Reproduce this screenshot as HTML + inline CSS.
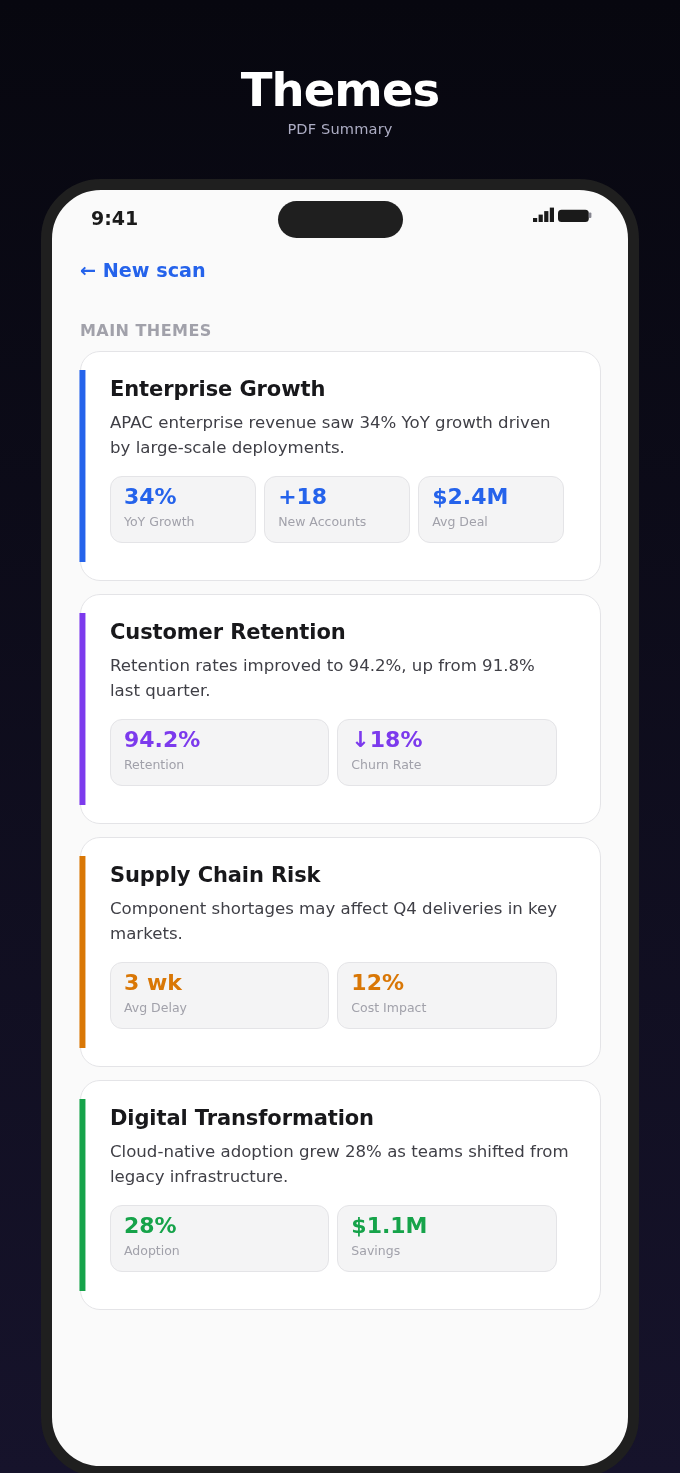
<!DOCTYPE html>
<html lang="en">
<head>
<meta charset="utf-8">
<title>Themes – PDF Summary</title>
<style>
*{box-sizing:border-box;margin:0;padding:0}
html,body{width:680px;height:1473px;overflow:hidden}
body{
  font-family:"DejaVu Sans","Liberation Sans",sans-serif;
  background:linear-gradient(180deg,#07070f 0%,#16132b 100%);
  position:relative;
  -webkit-font-smoothing:antialiased;
}
.hero{will-change:transform;position:absolute;left:0;top:0;width:680px;text-align:center;color:#fff}
.hero h1{position:absolute;left:0;width:680px;top:62px;font-size:46.5px;line-height:56px;font-weight:700;letter-spacing:-0.9px}
.hero p{position:absolute;left:0;width:680px;top:120px;font-size:14.6px;letter-spacing:.15px;line-height:18px;color:#adadc4}
.phone{
  position:absolute;left:41px;top:179px;width:598px;height:1298px;
  border:11px solid #1f1f1f;border-radius:60px;background:#fafafa;overflow:hidden;
}
.screen{will-change:transform;position:absolute;left:0;top:0;width:576px;height:1275px}
.time{position:absolute;left:39px;top:16px;font-size:19px;line-height:24px;font-weight:700;color:#1a1a1a}
.island{position:absolute;left:226px;top:11px;width:125px;height:37px;border-radius:19px;background:#1f1f1f}
.status{position:absolute;left:481.3px;top:16.5px;width:60px;height:16px}
.back{position:absolute;left:28px;top:68px;font-size:19.2px;line-height:26px;font-weight:700;color:#2563eb}
.section{position:absolute;left:28px;top:131px;font-size:16px;line-height:20px;font-weight:700;color:#a1a1aa;letter-spacing:.45px}
.card{
  position:absolute;left:28px;width:521px;height:230px;background:#fff;
  border:1px solid #e4e4e7;border-radius:20px;
}
.card .bar{position:absolute;left:-2px;top:18px;width:7px;height:192px;background:linear-gradient(90deg,rgba(var(--c),.55) 0,rgba(var(--c),.55) 1px,rgb(var(--c)) 1px,rgb(var(--c)) 6px,rgba(var(--c),.45) 6px,rgba(var(--c),.45) 7px)}
.card h2{position:absolute;left:29px;top:23px;letter-spacing:-0.1px;font-size:21px;line-height:28px;font-weight:700;color:#18181b;white-space:nowrap}
.card .desc{position:absolute;left:29px;top:58px;width:470px;white-space:nowrap;font-size:16.6px;line-height:25px;color:#3f3f46}
.stats{position:absolute;left:29px;top:124px;display:flex;gap:8px}
.stat{height:67px;background:#f4f4f5;border:1px solid #e4e4e7;border-radius:12px;padding:6px 13px 0 13px}
.stat b{display:block;font-size:22px;line-height:28px;font-weight:700;white-space:nowrap}
.stat span{display:block;font-size:12.5px;line-height:16px;color:#a1a1aa;margin-top:3px;white-space:nowrap}
.w3 .stat{width:146.13px}
.w2 .stat{width:219.35px}
.c1{top:161px}.c2{top:404px}.c3{top:647px}.c4{top:890px}
.blue{--c:37,99,235}.blue b{color:#2563eb}
.purple{--c:124,58,237}.purple b{color:#7c3aed}
.orange{--c:217,119,6}.orange b{color:#d97706}
.green{--c:22,163,74}.green b{color:#16a34a}
</style>
</head>
<body>
<div class="hero">
  <h1>Themes</h1>
  <p>PDF Summary</p>
</div>
<div class="phone">
 <div class="screen">
  <div class="time">9:41</div>
  <div class="island"></div>
  <svg class="status" viewBox="0 0 60 16">
    <rect x="0" y="11" width="4.2" height="4" fill="#1a1a1a"/>
    <rect x="5.6" y="7.6" width="4.2" height="7.4" fill="#1a1a1a"/>
    <rect x="11.2" y="4.1" width="4.2" height="10.9" fill="#1a1a1a"/>
    <rect x="16.8" y="0.6" width="4.2" height="14.4" fill="#1a1a1a"/>
    <rect x="25" y="2.7" width="30.8" height="12.3" rx="3.5" fill="#1a1a1a"/>
    <rect x="55.8" y="5.4" width="2.6" height="5.5" rx="1" fill="#85858f"/>
  </svg>
  <div class="back">← New scan</div>
  <div class="section">MAIN THEMES</div>

  <div class="card c1 blue">
    <div class="bar"></div>
    <h2>Enterprise Growth</h2>
    <div class="desc">APAC enterprise revenue saw 34% YoY growth driven<br>by large-scale deployments.</div>
    <div class="stats w3">
      <div class="stat"><b>34%</b><span>YoY Growth</span></div>
      <div class="stat"><b>+18</b><span>New Accounts</span></div>
      <div class="stat"><b>$2.4M</b><span>Avg Deal</span></div>
    </div>
  </div>

  <div class="card c2 purple">
    <div class="bar"></div>
    <h2>Customer Retention</h2>
    <div class="desc">Retention rates improved to 94.2%, up from 91.8%<br>last quarter.</div>
    <div class="stats w2">
      <div class="stat"><b>94.2%</b><span>Retention</span></div>
      <div class="stat"><b>↓18%</b><span>Churn Rate</span></div>
    </div>
  </div>

  <div class="card c3 orange">
    <div class="bar"></div>
    <h2>Supply Chain Risk</h2>
    <div class="desc">Component shortages may affect Q4 deliveries in key<br>markets.</div>
    <div class="stats w2">
      <div class="stat"><b>3 wk</b><span>Avg Delay</span></div>
      <div class="stat"><b>12%</b><span>Cost Impact</span></div>
    </div>
  </div>

  <div class="card c4 green">
    <div class="bar"></div>
    <h2>Digital Transformation</h2>
    <div class="desc">Cloud-native adoption grew 28% as teams shifted from<br>legacy infrastructure.</div>
    <div class="stats w2">
      <div class="stat"><b>28%</b><span>Adoption</span></div>
      <div class="stat"><b>$1.1M</b><span>Savings</span></div>
    </div>
  </div>
 </div>
</div>
</body>
</html>
